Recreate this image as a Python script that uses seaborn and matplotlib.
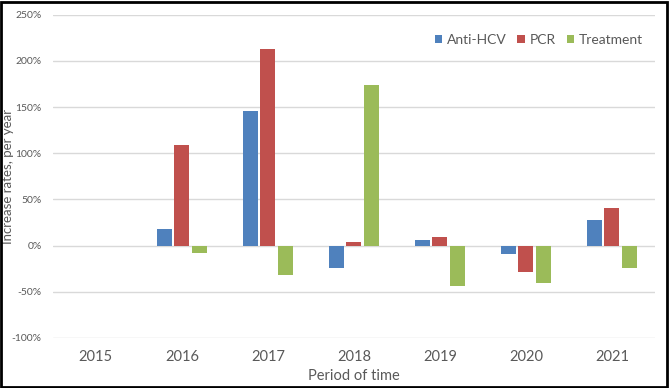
import numpy as np
import pandas as pd
import matplotlib

matplotlib.use("Agg")
import matplotlib.pyplot as plt
import seaborn as sns
from matplotlib.patches import Rectangle
from matplotlib.ticker import FuncFormatter

years = ["2015", "2016", "2017", "2018", "2019", "2020", "2021"]
anti_hcv = [np.nan, 18.4, 145.8, -24.2, 6.5, -8.7, 28.2]
pcr = [np.nan, 109.4, 212.6, 3.6, 9.7, -28.2, 40.8]
treatment = [np.nan, -7.9, -31.8, 174.4, -44.0, -40.8, -24.5]
series_names = ["Anti-HCV", "PCR", "Treatment"]
colors = ["#4F81BD", "#C0504D", "#9BBB59"]

df = pd.DataFrame({
    "year": years * 3,
    "series": np.repeat(series_names, len(years)),
    "rate": anti_hcv + pcr + treatment,
})

sns.set_theme(style="white")
plt.rcParams["font.family"] = ["Lato", "DejaVu Sans"]
text_color = "#595959"

fig = plt.figure(figsize=(6.69, 3.88), dpi=100)
ax = fig.add_axes([0.079, 0.129, 0.900, 0.833])

sns.barplot(
    data=df, x="year", y="rate", hue="series", order=years, hue_order=series_names,
    palette=colors, saturation=1, width=0.62, gap=0.15, errorbar=None, ax=ax, linewidth=0,
)

ax.set_ylim(-100, 250)
ax.set_yticks(np.arange(-100, 251, 50))
ax.yaxis.set_major_formatter(FuncFormatter(lambda v, _: f"{v:.0f}%"))
ax.grid(axis="y", color="#d9d9d9", linewidth=1)
ax.set_axisbelow(True)
for s in ax.spines.values():
    s.set_visible(False)
ax.tick_params(axis="both", length=0, colors=text_color)
ax.tick_params(axis="y", labelsize=7.5, pad=8)
ax.tick_params(axis="x", labelsize=10.5, pad=9)
ax.set_xlabel("Period of time", fontsize=10.5, color=text_color, labelpad=3)
ax.set_ylabel("Increase rates, per year", fontsize=9.5, color=text_color)
ax.yaxis.set_label_coords(-0.064, 0.5)

handles, labels = ax.get_legend_handles_labels()
ax.legend(handles, labels, loc="upper right", bbox_to_anchor=(1.0, 0.98), ncol=3,
          frameon=False, fontsize=10, handlelength=0.55, handleheight=0.55,
          handletextpad=0.3, columnspacing=0.8, labelcolor=text_color)

fig.patches.append(Rectangle((0.002, 0.003), 0.995, 0.993, transform=fig.transFigure,
                             fill=False, edgecolor="black", linewidth=2))

fig.savefig("out.png", dpi=100)
